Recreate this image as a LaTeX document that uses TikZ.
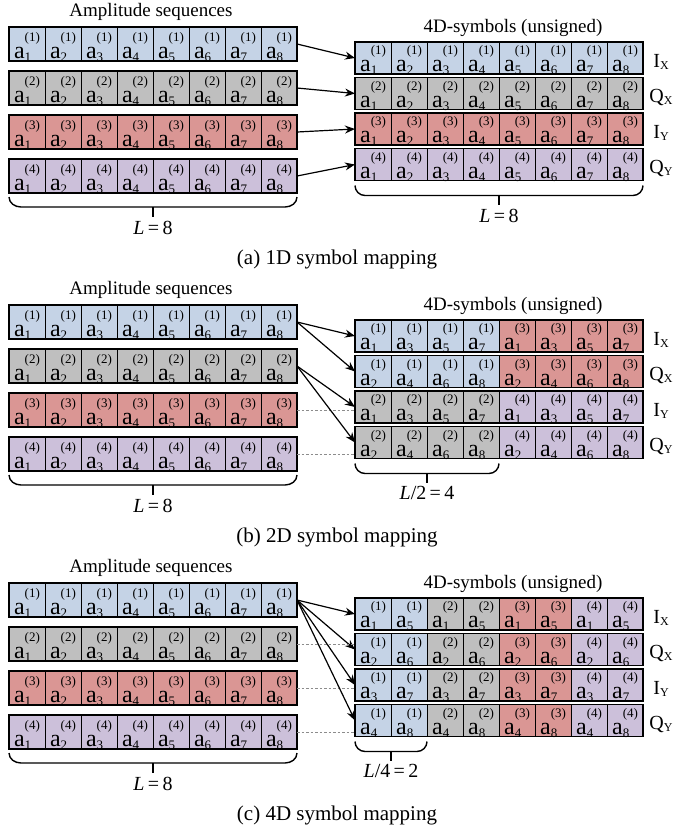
\documentclass[tikz,border=0pt]{standalone}
\usepackage{fontspec}
\setmainfont{Liberation Serif}
\usetikzlibrary{arrows.meta}
\definecolor{seq1}{HTML}{C5D3E6}
\definecolor{seq2}{HTML}{BFBFBF}
\definecolor{seq3}{HTML}{DA9694}
\definecolor{seq4}{HTML}{CCC0DA}
\definecolor{hiddenGray}{HTML}{8C8C8C}
\newcommand{\ampsym}[2]{a\rlap{\raisebox{-3pt}{\fontsize{13}{13}\selectfont#2}}\raisebox{17pt}{\fontsize{13}{13}\selectfont(#1)}}
\newcommand{\lanename}[2]{#1\raisebox{-2pt}{\fontsize{12}{12}\selectfont#2}}
\tikzset{
  lcell/.style={rectangle,draw=black,line width=0.8pt,inner sep=0pt,outer sep=0pt,
    minimum width=36pt,minimum height=34pt,text height=31pt,text depth=1.5pt,
    font=\fontsize{24}{26}\selectfont},
  rcell/.style={lcell,minimum height=32pt,text height=29pt},
  rowframe/.style={draw=black,line width=1.6pt},
  seqtitle/.style={inner sep=0pt,font=\fontsize{19}{22}\selectfont},
  lanelabel/.style={inner sep=0pt,anchor=base,font=\fontsize{20}{22}\selectfont},
  lenlabel/.style={inner sep=3pt,anchor=north,font=\fontsize{20}{22}\selectfont},
  panelcaption/.style={inner sep=0pt,font=\fontsize{21}{24}\selectfont},
  maparrow/.style={-{Stealth[length=10pt,width=8pt]},line width=1.2pt},
  hidden/.style={draw=hiddenGray,line width=0.8pt,dash pattern=on 2.5pt off 2pt},
  bracket/.style={line width=1.4pt},
  bracetick/.style={line width=2.4pt}
}

\begin{document}
\begin{tikzpicture}[x=1pt,y=-1pt]
  \useasboundingbox (0,0) rectangle (673,831);
  \foreach \p/\dy/\m/\sfor/\ifor/\lenlab in {%
      a/0/4/{\r}/{\k}/{\textit{L}\,=\,8},
      b/278/2/{(\r>2)+1+2*(\k>4)}/{2*mod(\k-1,4)+2-mod(\r,2)}/{\textit{L}/2\,=\,4},
      c/556/1/{ceil(\k/2)}/{\r+4*mod(\k-1,2)}/{\textit{L}/4\,=\,2}} {
    \begin{scope}[shift={(0,\dy)}]
      % amplitude sequences
      \node[seqtitle] (\p-ltitle) at (151,11.5) {Amplitude sequences};
      \foreach \r in {1,...,4} {
        \foreach \k in {1,...,8}
          \node[lcell,fill=seq\r] (\p-l\r-\k) at ({36*\k-9},{44*\r}) {\ampsym{\r}{\k}};
        \draw[rowframe] (\p-l\r-1.north west) rectangle (\p-l\r-8.south east);
      }
      \draw[bracket] ([yshift=-4pt]\p-l4-1.south west) to[out=-90,in=180] ++(12,10)
        -- ([xshift=-12pt,yshift=-14pt]\p-l4-8.south east) to[out=0,in=-90] ([yshift=-4pt]\p-l4-8.south east);
      \draw[bracetick] ([yshift=-14pt]\p-l4-4.south east) -- ++(0,10) node[lenlabel] (\p-llen) {\textit{L}\,=\,8};
      % 4D symbols
      \node[seqtitle] (\p-rtitle) at (513,28) {4D-symbols (unsigned)};
      \foreach \r/\ch/\ax in {1/I/X,2/Q/X,3/I/Y,4/Q/Y} {
        \foreach \k in {1,...,8} {
          \pgfmathtruncatemacro\sidx{\sfor}
          \pgfmathtruncatemacro\aidx{\ifor}
          \node[rcell,fill=seq\sidx] (\p-r\r-\k) at ({337+36*\k},{22.5+35.5*\r}) {\ampsym{\sidx}{\aidx}};
        }
        \draw[rowframe] (\p-r\r-1.north west) rectangle (\p-r\r-8.south east);
        \node[lanelabel] (\p-lane\r) at ([xshift=18pt,yshift=7pt]\p-r\r-8.south east) {\lanename{\ch}{\ax}};
        \pgfmathtruncatemacro\src{ceil(\r*\m/4)}
        \draw[maparrow] (\p-l\src-8.east) -- (\p-r\r-1.west);
        \ifnum\r>\m \draw[hidden] (\p-l\r-8.east) -- (\p-l\r-8.east -| \p-r\r-1.west); \fi
      }
      \pgfmathtruncatemacro\nb{2*\m}
      \draw[bracket] ([yshift=-5pt]\p-r4-1.south west) to[out=-90,in=180] ++(10,10)
        -- ([xshift=-10pt,yshift=-15pt]\p-r4-\nb.south east) to[out=0,in=-90] ([yshift=-5pt]\p-r4-\nb.south east);
      \draw[bracetick] ([yshift=-15pt]\p-r4-\m.south east) -- ++(0,9) node[lenlabel] (\p-rlen) {\lenlab};
      \pgfmathtruncatemacro\dimn{4/\m}
      \node[panelcaption] (\p-cap) at (337,259) {(\p) \dimn D symbol mapping};
    \end{scope}
  }
\end{tikzpicture}
\end{document}
